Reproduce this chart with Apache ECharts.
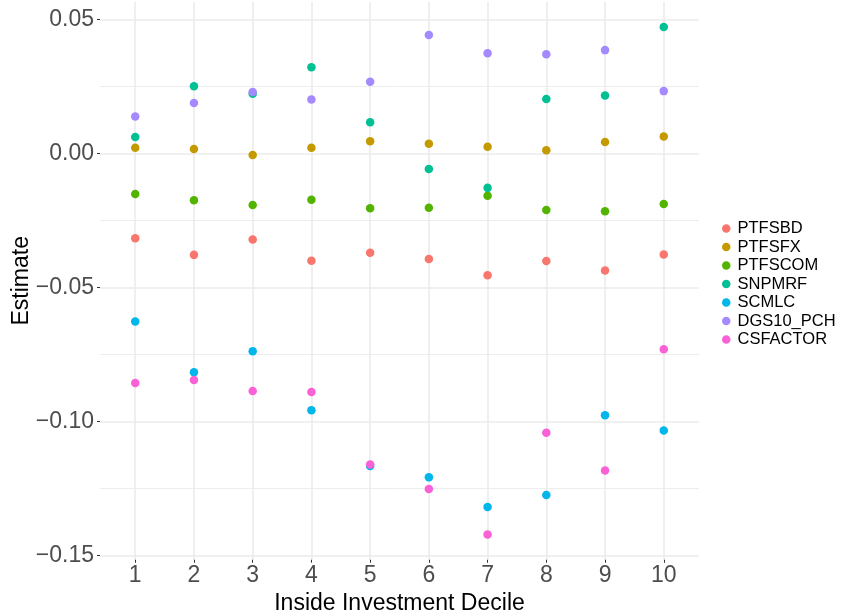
<!DOCTYPE html>
<html>
<head>
<meta charset="utf-8">
<script src="https://cdn.jsdelivr.net/npm/echarts@6/dist/echarts.min.js"></script>
<style>
html,body{margin:0;padding:0;background:#fff;}
#c{width:842px;height:611px;}
</style>
</head>
<body>
<div id="c"></div>
<script>
const deciles = [1,2,3,4,5,6,7,8,9,10];
const seriesNames = ['PTFSBD','PTFSFX','PTFSCOM','SNPMRF','SCMLC','DGS10_PCH','CSFACTOR'];
const PTFSBD    = [-0.0317,-0.0379,-0.0322,-0.0401,-0.0371,-0.0394,-0.0455,-0.0402,-0.0437,-0.0378];
const PTFSFX    = [0.0021,0.0016,-0.0006,0.0021,0.0045,0.0036,0.0024,0.0011,0.0042,0.0063];
const PTFSCOM   = [-0.0152,-0.0175,-0.0193,-0.0173,-0.0205,-0.0203,-0.0158,-0.0212,-0.0216,-0.0189];
const SNPMRF    = [0.0061,0.0250,0.0222,0.0321,0.0116,-0.0059,-0.0129,0.0203,0.0216,0.0471];
const SCMLC     = [-0.0628,-0.0817,-0.0739,-0.0959,-0.1167,-0.1209,-0.1320,-0.1275,-0.0977,-0.1034];
const DGS10_PCH = [0.0137,0.0188,0.0229,0.0201,0.0267,0.0441,0.0373,0.0370,0.0385,0.0232];
const CSFACTOR  = [-0.0857,-0.0846,-0.0887,-0.0891,-0.1161,-0.1253,-0.1422,-0.1043,-0.1184,-0.0731];
const yTicks = [-0.15,-0.10,-0.05,0.00,0.05];
const xTickLabels = ['1','2','3','4','5','6','7','8','9','10'];

const values = [PTFSBD,PTFSFX,PTFSCOM,SNPMRF,SCMLC,DGS10_PCH,CSFACTOR];
const colors = ['#F8766D','#C49A00','#53B400','#00C094','#00B6EB','#A58AFF','#FB61D7'];
const FONT = '"Liberation Sans", Arial, Helvetica, sans-serif';

// geometry
const W = 842, H = 611;
const PL = 100, PR = 699;
const K = 2680, Y0 = 153.3;
const allVals = values.flat();
const dMin = Math.min(...allVals), dMax = Math.max(...allVals);
const pad = (dMax - dMin) * 0.05;
const yMin = dMin - pad, yMax = dMax + pad;
const panelTop = Y0 - yMax * K, panelBot = Y0 - yMin * K;
const tMin = yTicks[0], tMax = yTicks[yTicks.length-1];
const step = (PR - PL) / 10.2;
const x1px = PL + 0.6 * step, x10px = PR - 0.6 * step;

const chart = echarts.init(document.getElementById('c'), null, {renderer:'canvas'});
const grid = '#EBEBEB';
chart.setOption({
  animation:false,
  backgroundColor:'#fff',
  textStyle:{fontFamily:FONT},
  grid:[
    {left:PL, right:W-PR, top:panelTop, bottom:H-panelBot, outerBoundsMode:'none', containLabel:false},
    {left:PL, right:W-PR, top:Y0 - tMax*K, bottom:H-(Y0 - tMin*K), outerBoundsMode:'none', containLabel:false},
    {left:x1px, right:W-x10px, top:panelTop, bottom:H-panelBot, outerBoundsMode:'none', containLabel:false}
  ],
  xAxis:[
    {gridIndex:0, type:'value', min:deciles[0]-0.6, max:deciles[deciles.length-1]+0.6,
     show:false, splitLine:{show:false}},
    {gridIndex:1, type:'value', min:0, max:1, show:false},
    {gridIndex:2, type:'value', min:deciles[0], max:deciles[deciles.length-1], interval:1,
     axisLine:{show:false},
     axisTick:{show:true, length:3, lineStyle:{color:'#333', width:1}},
     axisLabel:{show:true, margin:4, fontSize:23, color:'#4D4D4D', fontFamily:FONT,
       formatter:(v)=>xTickLabels[deciles.indexOf(v)] ?? ''},
     splitLine:{show:true, lineStyle:{color:grid, width:1.6}},
     name:'Inside Investment Decile', nameLocation:'middle', nameGap:21,
     nameTextStyle:{fontSize:23, color:'#000', fontFamily:FONT}}
  ],
  yAxis:[
    {gridIndex:0, type:'value', min:yMin, max:yMax,
     axisLine:{show:false}, axisTick:{show:false}, axisLabel:{show:false}, splitLine:{show:false},
     name:'Estimate', nameLocation:'middle', nameGap:67,
     nameTextStyle:{fontSize:23, color:'#000', fontFamily:FONT}},
    {gridIndex:1, type:'value', min:tMin, max:tMax, interval:0.05,
     axisLine:{show:false},
     axisTick:{show:true, length:3, lineStyle:{color:'#333', width:1}},
     axisLabel:{show:true, margin:6, fontSize:23, color:'#4D4D4D', fontFamily:FONT,
       formatter:(v)=>{const t=yTicks.find(a=>Math.abs(a-v)<1e-9); if(t===undefined) return ''; return t.toFixed(2).replace('-','\u2212');}},
     splitLine:{show:true, lineStyle:{color:grid, width:1.6}},
     minorTick:{show:false, splitNumber:2},
     minorSplitLine:{show:true, lineStyle:{color:grid, width:0.9}}},
    {gridIndex:2, type:'value', min:0, max:1, show:false}
  ],
  legend:{
    orient:'vertical', left:717, top:215,
    icon:'circle', itemWidth:8.5, itemHeight:8.5, itemGap:1.5,
    data:seriesNames,
    textStyle:{fontSize:16.5, color:'#000', fontFamily:FONT, lineHeight:16, padding:[0,0,0,2]}
  },
  series: seriesNames.map((n,i)=>({
    name:n, type:'scatter', xAxisIndex:0, yAxisIndex:0,
    symbol:'circle', symbolSize:8.5,
    itemStyle:{color:colors[i], opacity:1},
    data: deciles.map((d,j)=>[d, values[i][j]])
  }))
});
</script>
</body>
</html>
